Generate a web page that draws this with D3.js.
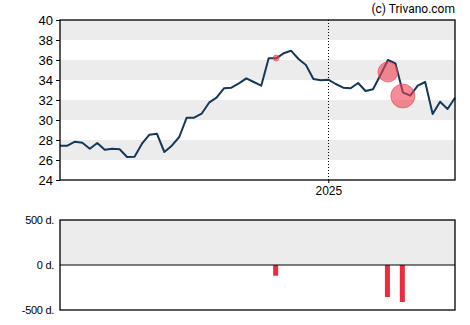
<!DOCTYPE html>
<html><head><meta charset="utf-8">
<script src="https://cdn.jsdelivr.net/npm/d3@7"></script>
<style>body{margin:0;background:#fff}svg{display:block}text{font-family:"Liberation Sans",Arial,sans-serif}</style>
</head><body><svg id="c" width="470" height="325"></svg>
<script>
const dates = ["2024-04-24","2024-05-01","2024-05-08","2024-05-15","2024-05-22","2024-05-29","2024-06-05","2024-06-12","2024-06-19","2024-06-26","2024-07-03","2024-07-10","2024-07-17","2024-07-24","2024-07-31","2024-08-07","2024-08-14","2024-08-21","2024-08-28","2024-09-04","2024-09-11","2024-09-18","2024-09-25","2024-10-02","2024-10-09","2024-10-16","2024-10-23","2024-10-30","2024-11-06","2024-11-13","2024-11-20","2024-11-27","2024-12-04","2024-12-11","2024-12-18","2024-12-25","2025-01-01","2025-01-08","2025-01-15","2025-01-22","2025-01-29","2025-02-05","2025-02-12","2025-02-19","2025-02-26","2025-03-05","2025-03-12","2025-03-19","2025-03-26","2025-04-02","2025-04-09","2025-04-16","2025-04-23","2025-04-30"];
const prices = [27.43,27.43,27.83,27.73,27.13,27.7,27.03,27.13,27.07,26.3,26.33,27.63,28.53,28.63,26.8,27.43,28.3,30.23,30.23,30.63,31.73,32.23,33.17,33.23,33.67,34.17,33.8,33.43,36.17,36.17,36.67,36.93,36.1,35.5,34.1,33.97,34.03,33.6,33.23,33.17,33.7,32.9,33.07,34.5,36.0,35.67,32.77,32.43,33.43,33.8,30.6,31.83,31.1,32.23];
const eventDates = ["2024-11-13","2025-02-26","2025-03-12"];
const eventPrices = [36.2,34.8,32.4];
const eventSizes = [3,10,12];
const eventDays = [-119,-356,-411];
const priceTicks = [24,26,28,30,32,34,36,38,40];
const dayTicks = [-500,0,500];
const dayTickLabels = ["-500 d.","0 d.","500 d."];
const xTickDates = ["2025-01-01"];
const xTickLabels = ["2025"];

const parse = d3.utcParse("%Y-%m-%d");
const svg = d3.select("#c");
const L = 60, R = 455, T = 20, B = 180, T2 = 220, B2 = 310;
const x = d3.scaleUtc().domain([parse(dates[0]), parse(dates[dates.length-1])]).range([L, R]);
const y = d3.scaleLinear().domain([24, 40]).range([B, T]);
const y2 = d3.scaleLinear().domain([-500, 500]).range([B2, T2]);

// bands
const bands = [[26,28],[30,32],[34,36],[38,40]];
svg.append("g").selectAll("rect").data(bands).join("rect")
  .attr("x", L).attr("width", R - L)
  .attr("y", d => y(d[1])).attr("height", d => y(d[0]) - y(d[1]))
  .attr("fill", "#ececec");
svg.append("rect").attr("x", L).attr("width", R - L).attr("y", y2(500)).attr("height", y2(0) - y2(500)).attr("fill", "#ececec");

// 2025 dotted line
xTickDates.forEach(d => {
  svg.append("line").attr("x1", Math.round(x(parse(d))) + 0.5).attr("x2", Math.round(x(parse(d))) + 0.5)
    .attr("y1", T).attr("y2", B).attr("stroke", "#000").attr("stroke-dasharray", "1,2");
});

// price line
const line = d3.line().x((d, i) => x(parse(dates[i]))).y(d => y(d));
svg.append("path").datum(prices).attr("d", line).attr("fill", "none")
  .attr("stroke", "#14385a").attr("stroke-width", 2).attr("stroke-linejoin", "round");

// events circles
svg.append("g").selectAll("circle").data(eventDates).join("circle")
  .attr("cx", (d) => x(parse(d))).attr("cy", (d, i) => y(eventPrices[i])).attr("r", (d, i) => eventSizes[i])
  .attr("fill", "#f0404e").attr("fill-opacity", 0.6).attr("stroke", "#f0404e").attr("stroke-opacity", 0.6);

// bars
svg.append("g").selectAll("rect").data(eventDates).join("rect")
  .attr("x", d => x(parse(d)) - 3).attr("width", 5)
  .attr("y", y2(0)).attr("height", (d, i) => y2(eventDays[i]) - y2(0))
  .attr("fill", "#ee2b3d");

// axes
const ay = d3.axisLeft(y).tickValues(priceTicks).tickSize(4).tickPadding(3);
const gy = svg.append("g").attr("transform", `translate(${L},0)`).call(ay);
gy.select(".domain").remove();
gy.selectAll("text").attr("font-size", 13).attr("fill", "#000");

const ax = d3.axisBottom(x).tickValues(xTickDates.map(parse)).tickFormat((d, i) => xTickLabels[i]).tickSize(3).tickPadding(3);
const gx = svg.append("g").attr("transform", `translate(0,${B})`).call(ax);
gx.select(".domain").remove();
gx.selectAll("text").attr("font-size", 12).attr("fill", "#000");

const ay2 = d3.axisLeft(y2).tickValues(dayTicks).tickFormat((d, i) => dayTickLabels[i]).tickSize(0).tickPadding(6);
const gy2 = svg.append("g").attr("transform", `translate(${L},0)`).call(ay2);
gy2.select(".domain").remove();
gy2.selectAll("text").attr("font-size", 11).attr("fill", "#000").attr("letter-spacing", "-0.3");

// zero line and frames
svg.append("line").attr("x1", L).attr("x2", R).attr("y1", y2(0)).attr("y2", y2(0)).attr("stroke", "#000");
svg.append("rect").attr("x", L).attr("y", T).attr("width", R - L).attr("height", B - T).attr("fill", "none").attr("stroke", "#000").attr("stroke-width", 1.3);
svg.append("rect").attr("x", L).attr("y", T2).attr("width", R - L).attr("height", B2 - T2).attr("fill", "none").attr("stroke", "#000").attr("stroke-width", 1.3);

svg.append("text").attr("x", R).attr("y", 13).attr("text-anchor", "end")
  .attr("font-size", 12).style("font-family", "Roboto, sans-serif").text("(c) Trivano.com");
</script></body></html>
